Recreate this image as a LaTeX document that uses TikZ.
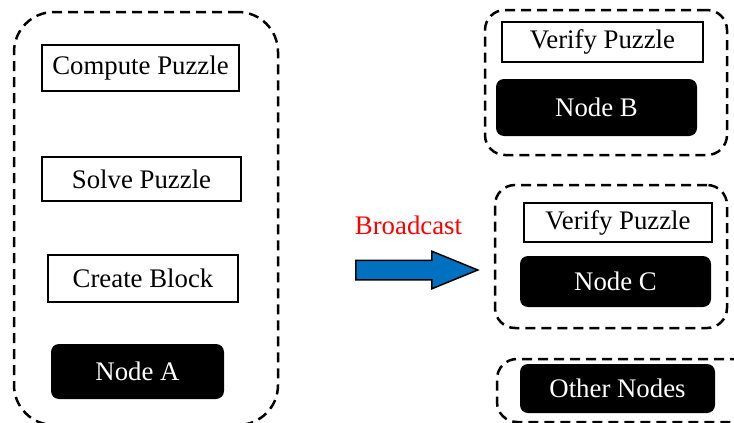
\documentclass[tikz,border=0pt]{standalone}
\usepackage{fontspec}
\setmainfont{Liberation Serif}
\usetikzlibrary{shapes.arrows}
\definecolor{arrowblue}{HTML}{0070C0}
\begin{document}
\begin{tikzpicture}[x=0.5pt,y=-0.5pt,
    every node/.style={font=\fontsize{13.4}{16}\selectfont,inner sep=0pt},
    task/.style={draw,line width=0.75pt,fill=white},
    peer/.style={fill=black,text=white,rounded corners=4pt},
    group/.style={draw,line width=1.25pt,dash pattern=on 5pt off 3pt,rounded corners=#1}]

    \useasboundingbox (0,0) rectangle (734,423);
    \clip (0,0) rectangle (734,423);

    % --------------------------------------------------------- %
    % ------------- miner (node A)
    % --------------------------------------------------------- %
    \node[group=20pt,minimum width=132pt,minimum height=206.5pt] (grpA) at (146,218.5) {};
    \node[task,minimum width=98.5pt,minimum height=23pt] (compute) at (140.5,68) {Compute Puzzle};
    \node[task,minimum width=99.5pt,minimum height=22pt] (solve) at (141.5,179) {Solve Puzzle};
    \node[task,minimum width=95pt,minimum height=23.5pt] (create) at (143,278.5) {Create Block};
    \node[peer,minimum width=86.5pt,minimum height=27.5pt] (nodeA) at (137.5,371.5) {Node A};

    % --------------------------------------------------------- %
    % ------------ broadcast arrow
    % --------------------------------------------------------- %
    \node[single arrow,draw,line width=0.75pt,fill=arrowblue,inner xsep=0pt,inner ysep=4.5pt,
          minimum height=61pt,minimum width=18pt,single arrow head extend=4.5pt,
          single arrow tip angle=44.5,anchor=tail] (bcast) at (355,270) {};
    \node[text=red] (bcastlbl) at (408.5,225) {Broadcast};

    % --------------------------------------------------------- %
    % ------------ receivers
    % --------------------------------------------------------- %
    % --- Node B
    \node[group=10pt,minimum width=121pt,minimum height=72.5pt] (grpB) at (606,82.5) {};
    \node[task,minimum width=100.5pt,minimum height=20pt] (verifyB) at (602.5,42) {Verify Puzzle};
    \node[peer,minimum width=100.5pt,minimum height=28.5pt] (nodeB) at (596.5,107.5) {Node B};
    % --- Node C
    \node[group=10pt,minimum width=116pt,minimum height=71.5pt] (grpC) at (611,256.5) {};
    \node[task,minimum width=94pt,minimum height=19.5pt] (verifyC) at (618,222.5) {Verify Puzzle};
    \node[peer,minimum width=95.5pt,minimum height=25.5pt] (nodeC) at (615.5,281.5) {Node C};
    % --- other nodes
    \node[group=10pt,minimum width=131.5pt,minimum height=31.5pt] (grpO) at (628.5,390.5) {};
    \node[peer,minimum width=97.5pt,minimum height=24.5pt] (other) at (617.5,388.5) {Other Nodes};

\end{tikzpicture}
\end{document}
